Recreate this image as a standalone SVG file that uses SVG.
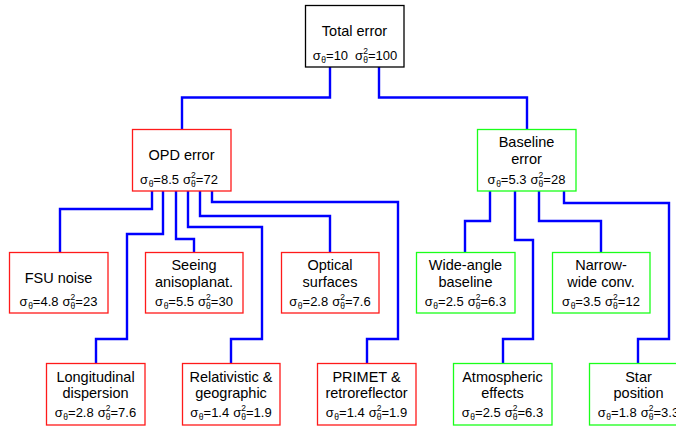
<svg xmlns="http://www.w3.org/2000/svg" width="676" height="427" viewBox="0 0 676 427">
<style>
  .box { fill: #ffffff; stroke-width: 1.3; }
  .blk { stroke: #000000; }
  .red { stroke: #ff1a1a; }
  .grn { stroke: #1aff1a; }
  .t { font-family: "Liberation Sans", Arial, sans-serif; font-size: 14.5px; fill: #000; text-anchor: middle; }
  .s { font-family: "Liberation Sans", Arial, sans-serif; font-size: 13px; fill: #000; text-anchor: middle; }
  .sb { font-size: 8.5px; }
  .conn path { fill: none; stroke: #0000ff; stroke-width: 2.4; stroke-linejoin: miter; }
</style>
<rect width="676" height="427" fill="#ffffff"/>
<g id="connectors" class="conn">
  <path d="M330,67 V97.5 H182 V129"/>
  <path d="M379,67 V97.5 H527 V129"/>
  <path d="M152,191 V209 H60 V252"/>
  <path d="M163,191 V234 H127 V339 H96 V363"/>
  <path d="M176,191 V239 H194 V252"/>
  <path d="M188,191 V227 H262 V339 H231 V363"/>
  <path d="M200,191 V216 H330 V252"/>
  <path d="M212,191 V202 H398 V339 H367 V363"/>
  <path d="M490,191 V221 H465 V252"/>
  <path d="M515,191 V240 H533 V339 H503 V363"/>
  <path d="M539,191 V221 H601 V252"/>
  <path d="M564,191 V203 H669 V339 H638 V363"/>
</g>
<g id="total">
  <rect class="box blk" x="305.5" y="5.5" width="98.5" height="61.5"/>
  <text class="t" x="354.5" y="36">Total error</text>
  <text class="s" x="355" y="60">σ<tspan class="sb" dx="0.5" dy="3">θ</tspan><tspan dy="-3">=10</tspan><tspan dx="7">σ</tspan><tspan class="sb" dy="-6">2</tspan><tspan class="sb" dx="-4.7" dy="9">θ</tspan><tspan dy="-3">=100</tspan></text>
</g>
<g id="opd">
  <rect class="box red" x="132.5" y="129.5" width="98.5" height="61.5"/>
  <text class="t" x="181.5" y="160">OPD error</text>
  <text class="s" x="179" y="184">σ<tspan class="sb" dx="0.5" dy="3">θ</tspan><tspan dy="-3">=8.5</tspan><tspan dx="4">σ</tspan><tspan class="sb" dy="-6">2</tspan><tspan class="sb" dx="-4.7" dy="9">θ</tspan><tspan dy="-3">=72</tspan></text>
</g>
<g id="baseline">
  <rect class="box grn" x="477.5" y="129.5" width="98.5" height="61.5"/>
  <text class="t" x="526.5" y="147">Baseline</text>
  <text class="t" x="526.5" y="164">error</text>
  <text class="s" x="526.5" y="184">σ<tspan class="sb" dx="0.5" dy="3">θ</tspan><tspan dy="-3">=5.3</tspan><tspan dx="4">σ</tspan><tspan class="sb" dy="-6">2</tspan><tspan class="sb" dx="-4.7" dy="9">θ</tspan><tspan dy="-3">=28</tspan></text>
</g>
<g id="fsu">
  <rect class="box red" x="9.5" y="252.5" width="98.5" height="60.5"/>
  <text class="t" x="58.5" y="283">FSU noise</text>
  <text class="s" x="58.5" y="306">σ<tspan class="sb" dx="0.5" dy="3">θ</tspan><tspan dy="-3">=4.8</tspan><tspan dx="4">σ</tspan><tspan class="sb" dy="-6">2</tspan><tspan class="sb" dx="-4.7" dy="9">θ</tspan><tspan dy="-3">=23</tspan></text>
</g>
<g id="seeing">
  <rect class="box red" x="145.5" y="252.5" width="97.5" height="60.5"/>
  <text class="t" x="194" y="270">Seeing</text>
  <text class="t" x="194" y="287">anisoplanat.</text>
  <text class="s" x="194" y="306">σ<tspan class="sb" dx="0.5" dy="3">θ</tspan><tspan dy="-3">=5.5</tspan><tspan dx="4">σ</tspan><tspan class="sb" dy="-6">2</tspan><tspan class="sb" dx="-4.7" dy="9">θ</tspan><tspan dy="-3">=30</tspan></text>
</g>
<g id="optical">
  <rect class="box red" x="281.5" y="252.5" width="97.5" height="60.5"/>
  <text class="t" x="330" y="270">Optical</text>
  <text class="t" x="330" y="287">surfaces</text>
  <text class="s" x="330" y="306">σ<tspan class="sb" dx="0.5" dy="3">θ</tspan><tspan dy="-3">=2.8</tspan><tspan dx="4">σ</tspan><tspan class="sb" dy="-6">2</tspan><tspan class="sb" dx="-4.7" dy="9">θ</tspan><tspan dy="-3">=7.6</tspan></text>
</g>
<g id="wide">
  <rect class="box grn" x="416.5" y="252.5" width="98.5" height="60.5"/>
  <text class="t" x="465.5" y="270">Wide-angle</text>
  <text class="t" x="465.5" y="287">baseline</text>
  <text class="s" x="465.5" y="306">σ<tspan class="sb" dx="0.5" dy="3">θ</tspan><tspan dy="-3">=2.5</tspan><tspan dx="4">σ</tspan><tspan class="sb" dy="-6">2</tspan><tspan class="sb" dx="-4.7" dy="9">θ</tspan><tspan dy="-3">=6.3</tspan></text>
</g>
<g id="narrow">
  <rect class="box grn" x="552.5" y="252.5" width="97.5" height="60.5"/>
  <text class="t" x="601" y="270">Narrow-</text>
  <text class="t" x="601" y="287">wide conv.</text>
  <text class="s" x="601" y="306">σ<tspan class="sb" dx="0.5" dy="3">θ</tspan><tspan dy="-3">=3.5</tspan><tspan dx="4">σ</tspan><tspan class="sb" dy="-6">2</tspan><tspan class="sb" dx="-4.7" dy="9">θ</tspan><tspan dy="-3">=12</tspan></text>
</g>
<g id="longitudinal">
  <rect class="box red" x="46.5" y="363.5" width="98.5" height="61.5"/>
  <text class="t" x="95.5" y="382">Longitudinal</text>
  <text class="t" x="95.5" y="398">dispersion</text>
  <text class="s" x="95.5" y="417">σ<tspan class="sb" dx="0.5" dy="3">θ</tspan><tspan dy="-3">=2.8</tspan><tspan dx="4">σ</tspan><tspan class="sb" dy="-6">2</tspan><tspan class="sb" dx="-4.7" dy="9">θ</tspan><tspan dy="-3">=7.6</tspan></text>
</g>
<g id="relativistic">
  <rect class="box red" x="182.5" y="363.5" width="97.5" height="61.5"/>
  <text class="t" x="231" y="382">Relativistic &amp;</text>
  <text class="t" x="231" y="398">geographic</text>
  <text class="s" x="231" y="417">σ<tspan class="sb" dx="0.5" dy="3">θ</tspan><tspan dy="-3">=1.4</tspan><tspan dx="4">σ</tspan><tspan class="sb" dy="-6">2</tspan><tspan class="sb" dx="-4.7" dy="9">θ</tspan><tspan dy="-3">=1.9</tspan></text>
</g>
<g id="primet">
  <rect class="box red" x="317.5" y="363.5" width="98.5" height="61.5"/>
  <text class="t" x="366.5" y="382">PRIMET &amp;</text>
  <text class="t" x="366.5" y="398">retroreflector</text>
  <text class="s" x="366.5" y="417">σ<tspan class="sb" dx="0.5" dy="3">θ</tspan><tspan dy="-3">=1.4</tspan><tspan dx="4">σ</tspan><tspan class="sb" dy="-6">2</tspan><tspan class="sb" dx="-4.7" dy="9">θ</tspan><tspan dy="-3">=1.9</tspan></text>
</g>
<g id="atmospheric">
  <rect class="box grn" x="453.5" y="363.5" width="98.5" height="61.5"/>
  <text class="t" x="502.5" y="382">Atmospheric</text>
  <text class="t" x="502.5" y="398">effects</text>
  <text class="s" x="502.5" y="417">σ<tspan class="sb" dx="0.5" dy="3">θ</tspan><tspan dy="-3">=2.5</tspan><tspan dx="4">σ</tspan><tspan class="sb" dy="-6">2</tspan><tspan class="sb" dx="-4.7" dy="9">θ</tspan><tspan dy="-3">=6.3</tspan></text>
</g>
<g id="star">
  <rect class="box grn" x="589.5" y="363.5" width="98.5" height="61.5"/>
  <text class="t" x="638.5" y="382">Star</text>
  <text class="t" x="638.5" y="398">position</text>
  <text class="s" x="638.5" y="417">σ<tspan class="sb" dx="0.5" dy="3">θ</tspan><tspan dy="-3">=1.8</tspan><tspan dx="4">σ</tspan><tspan class="sb" dy="-6">2</tspan><tspan class="sb" dx="-4.7" dy="9">θ</tspan><tspan dy="-3">=3.3</tspan></text>
</g>
</svg>
